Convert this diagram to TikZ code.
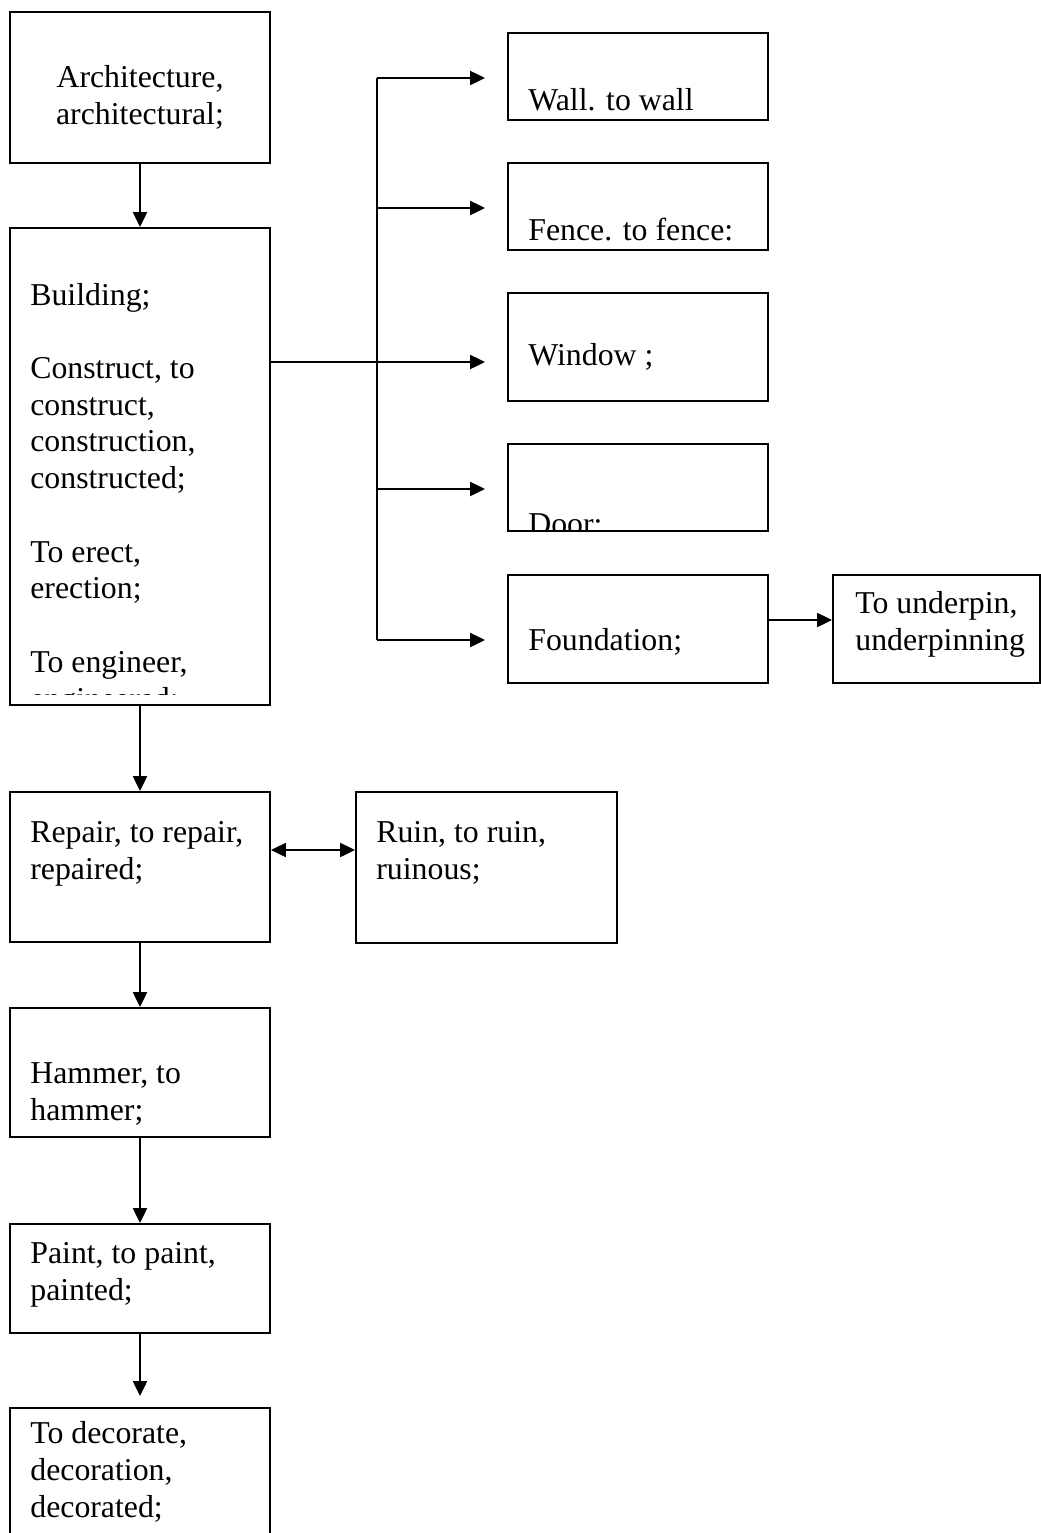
\documentclass[tikz,border=0pt]{standalone}
\usepackage{fontspec}
\setmainfont{Liberation Serif}
\usetikzlibrary{arrows.meta,positioning}

\begin{document}
\begin{tikzpicture}[
        x=0.2mm, y=-0.2mm,
        >={Triangle[length=3mm,width=2.8mm]},
        box/.style={rectangle, draw, line width=1.1pt, minimum width=52mm, inner sep=0pt},
        words/.style={align=left, inner sep=0pt, anchor=base west, font=\fontsize{18.1pt}{20.9pt}\selectfont},
        link/.style={->, line width=1.3pt}
    ]

    \clip (0,0) rectangle (1041,1533);

    % Cajas
    \node[box, minimum height=30.2mm] (arch) at (140,87.5) {};
    \node[box, minimum height=95.4mm] (build) at (140,466.5) {};
    \node[box, minimum height=17.4mm] (wall) at (638,76.5) {};
    \node[box, minimum height=17.4mm] (fence) at (638,206.5) {};
    \node[box, minimum height=21.6mm] (window) at (638,347) {};
    \node[box, minimum height=17.4mm] (door) at (638,487.5) {};
    \node[box, minimum height=21.6mm] (found) at (638,629) {};
    \node[box, minimum height=21.6mm, minimum width=41.4mm] (under) at (936.5,629) {};
    \node[box, minimum height=30mm] (repair) at (140,867) {};
    \node[box, minimum height=30.2mm, minimum width=52.2mm] (ruin) at (486.5,867.5) {};
    \node[box, minimum height=25.8mm] (hammer) at (140,1072.5) {};
    \node[box, minimum height=21.8mm] (paint) at (140,1278.5) {};
    \node[box, minimum height=30.4mm] (deco) at (140,1484) {};

    % Textos (la base es la de la ultima linea)
    \node[words, align=center, anchor=base] (archtxt) at (140,124) {Architecture,\\architectural;};
    \begin{scope}
        \clip (build.north west) rectangle ([yshift=2.2mm]build.south east);
        \node[words] (buildtxt) at (30,709) {Building;\\[20.9pt]Construct, to\\construct,\\construction,\\constructed;\\[20.9pt]To erect,\\erection;\\[20.9pt]To engineer,\\engineered;};
    \end{scope}
    \node[words] (walltxt) at (528,110) {Wall. to wall};
    \node[words] (fencetxt) at (528,240) {Fence. to fence:};
    \node[words] (windowtxt) at (528,365) {Window ;};
    \begin{scope}
        \clip (door.south west) rectangle (door.north east);
        \node[words] (doortxt) at (528,534) {Door:};
    \end{scope}
    \node[words] (foundtxt) at (528,650) {Foundation;};
    \node[words] (undertxt) at (855,650) {To underpin,\\underpinning};
    \node[words] (repairtxt) at (30,879) {Repair, to repair,\\repaired;};
    \node[words] (ruintxt) at (376,879) {Ruin, to ruin,\\ruinous;};
    \node[words] (hammertxt) at (30,1120) {Hammer, to\\hammer;};
    \node[words] (painttxt) at (30,1300) {Paint, to paint,\\painted;};
    \node[words] (decotxt) at (30,1517) {To decorate,\\decoration,\\decorated;};

    % Ramas
    \coordinate (jwall) at (377,78);
    \coordinate (jfence) at (377,208);
    \coordinate (jwin) at (377,362);
    \coordinate (jdoor) at (377,489);
    \coordinate (jfound) at (377,640);
    \coordinate (jrep) at (313,850);
    \coordinate (jund) at (800,620);

    \draw[line width=1.3pt] (jwall) -- (jfound);
    \draw[link, shorten >=4.4mm] (build.east |- jwin) -- (jwin -| window.west);
    \foreach \j/\b in {jwall/wall, jfence/fence, jdoor/door, jfound/found}
        \draw[link, shorten >=4.4mm] (\j) -- (\j -| \b.west);
    \draw[link] (found.east |- jund) -- (under.west |- jund);

    % Flechas
    \draw[link] (arch) -- (build);
    \draw[link] (build) -- (repair);
    \draw[link, <->] (repair.east |- jrep) -- (ruin.west |- jrep);
    \draw[link] (repair) -- (hammer);
    \draw[link] (hammer) -- (paint);
    \draw[link, shorten >=2.2mm] (paint) -- (deco);

\end{tikzpicture}
\end{document}
